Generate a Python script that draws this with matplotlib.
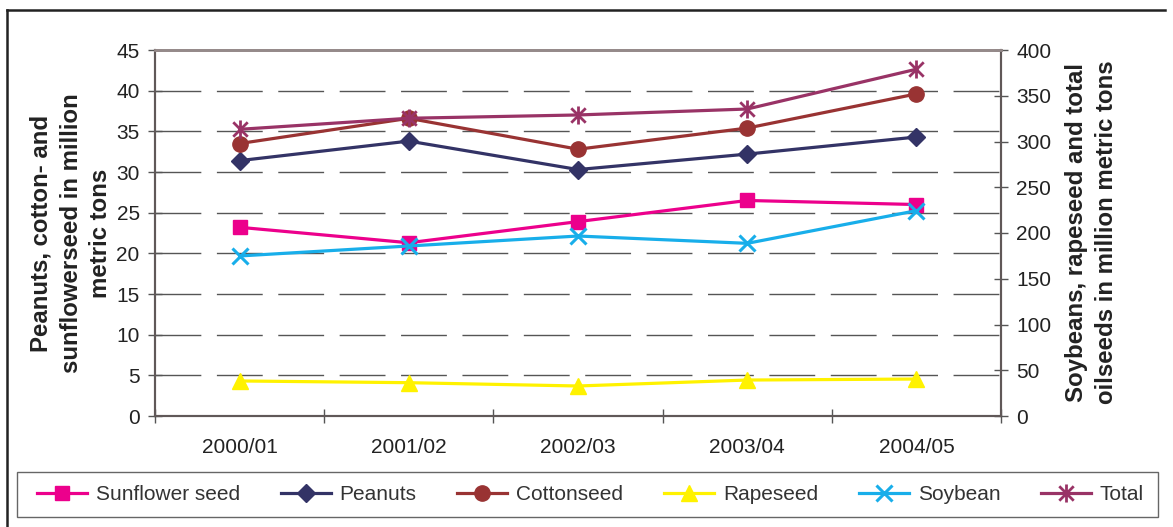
import matplotlib
matplotlib.use("Agg")
import matplotlib.pyplot as plt
from matplotlib.path import Path
from matplotlib.lines import Line2D
from matplotlib.patches import Rectangle

plt.rcParams['font.family'] = ['Liberation Sans', 'DejaVu Sans']

# Marketing years
years = ["2000/01", "2001/02", "2002/03", "2003/04", "2004/05"]

# Left axis series (million metric tons)
sunflower = [23.2, 21.3, 23.9, 26.5, 26.0]
peanuts = [31.4, 33.8, 30.3, 32.2, 34.3]
cottonseed = [33.5, 36.6, 32.8, 35.4, 39.6]

# Right axis series (million metric tons)
rapeseed = [38.3, 36.4, 32.8, 39.3, 40.4]
soybean = [174.9, 185.8, 196.7, 188.7, 224.4]
total = [313.3, 325.4, 329.0, 335.5, 379.0]

left_ticks = list(range(0, 46, 5))
right_ticks = list(range(0, 401, 50))

W, H = 1173, 527
fig = plt.figure(figsize=(W / 100, H / 100), dpi=100)
ax = fig.add_axes([155 / W, 1 - 416 / H, (1001 - 155) / W, (416 - 50) / H])
ax2 = ax.twinx()

x = list(range(len(years)))

# asterisk marker: an X crossed with a vertical bar
star = Path([(-1, -1), (1, 1), (-1, 1), (1, -1), (0, -1.25), (0, 1.25)],
            [Path.MOVETO, Path.LINETO, Path.MOVETO, Path.LINETO, Path.MOVETO, Path.LINETO])

lw = 2.3
l_sun, = ax.plot(x, sunflower, color='#EC008C', lw=lw, marker='s', ms=10,
                 mec='#EC008C', mfc='#EC008C', label='Sunflower seed', zorder=3)
l_pea, = ax.plot(x, peanuts, color='#333366', lw=lw, marker='D', ms=9.5,
                 mec='#333366', mfc='#333366', label='Peanuts', zorder=3)
l_cot, = ax.plot(x, cottonseed, color='#993333', lw=lw, marker='o', ms=11,
                 mec='#993333', mfc='#993333', label='Cottonseed', zorder=3)
l_rap, = ax2.plot(x, rapeseed, color='#FFF200', lw=lw, marker='^', ms=12,
                  mec='#FFF200', mfc='#FFF200', label='Rapeseed', zorder=3)
l_soy, = ax2.plot(x, soybean, color='#18AEEA', lw=lw, marker='x', ms=11, mew=2.2,
                  label='Soybean', zorder=3)
l_tot, = ax2.plot(x, total, color='#993366', lw=lw, marker=star, ms=13, mew=2.0,
                  label='Total', zorder=3)

ax.set_xlim(-0.5, len(years) - 0.5)
ax.set_ylim(0, 45)
ax2.set_ylim(0, 400)

ax.set_yticks(left_ticks)
ax2.set_yticks(right_ticks)
ax.set_xticks(x)
ax.set_xticklabels(years)
ax.set_xticks([i - 0.5 for i in range(len(years) + 1)], minor=True)

tick_color = '#222222'
fs = 15
ax.tick_params(axis='x', which='major', length=0, pad=16, labelsize=fs, labelcolor=tick_color)
ax.tick_params(axis='x', which='minor', direction='inout', length=10, width=1, color='#555555')
ax.tick_params(axis='y', direction='inout', length=10, width=1, color='#555555',
               pad=6, labelsize=fs, labelcolor=tick_color)
ax2.tick_params(axis='y', direction='inout', length=10, width=1, color='#555555',
                pad=6, labelsize=fs, labelcolor=tick_color)

# dashed horizontal gridlines on the left scale
for v in left_ticks[1:-1]:
    ax.axhline(v, color='#555555', lw=1.0, dashes=(33, 11.2), zorder=1)

for a in (ax, ax2):
    for side in ('left', 'bottom', 'right'):
        a.spines[side].set_color('#605858')
        a.spines[side].set_linewidth(1.5)
    a.spines['top'].set_color('#958a8a')
    a.spines['top'].set_linewidth(2.0)

ax.set_zorder(1)
ax.patch.set_visible(False)
ax2.set_zorder(2)

label_kw = dict(fontsize=17.3, fontweight='bold', color='#222222', rotation=90,
                ha='center', va='center', multialignment='center', linespacing=1.38)
fig.text(71 / W, 1 - 233 / H, "Peanuts, cotton- and\nsunflowerseed in million\nmetric tons", **label_kw)
fig.text(1091.5 / W, 1 - 232 / H, "Soybeans, rapeseed and total\noilseeds in million metric tons", **label_kw)

# legend box below the plot
fig.add_artist(Rectangle((17 / W, 1 - 517 / H), (1158 - 17) / W, 45 / H,
                         transform=fig.transFigure, fill=False,
                         edgecolor='#666666', lw=1.0))
handles = [l_sun, l_pea, l_cot, l_rap, l_soy, l_tot]
leg = fig.legend(handles=handles, labels=[h.get_label() for h in handles],
                 loc='center', bbox_to_anchor=(590.5 / W, 1 - 494.5 / H),
                 ncol=6, fontsize=fs, frameon=False,
                 handlelength=2.4, handletextpad=0.43, columnspacing=1.95,
                 borderpad=0, borderaxespad=0)
for t in leg.get_texts():
    t.set_color('#333333')

# outer frame lines (left and top)
fig.add_artist(Line2D([7 / W, 7 / W], [0, 1 - 10 / H], transform=fig.transFigure,
                      color='#222222', lw=1.8))
fig.add_artist(Line2D([7 / W, 1165 / W], [1 - 10 / H, 1 - 10 / H], transform=fig.transFigure,
                      color='#222222', lw=1.8))

fig.savefig("out.png", dpi=100)
